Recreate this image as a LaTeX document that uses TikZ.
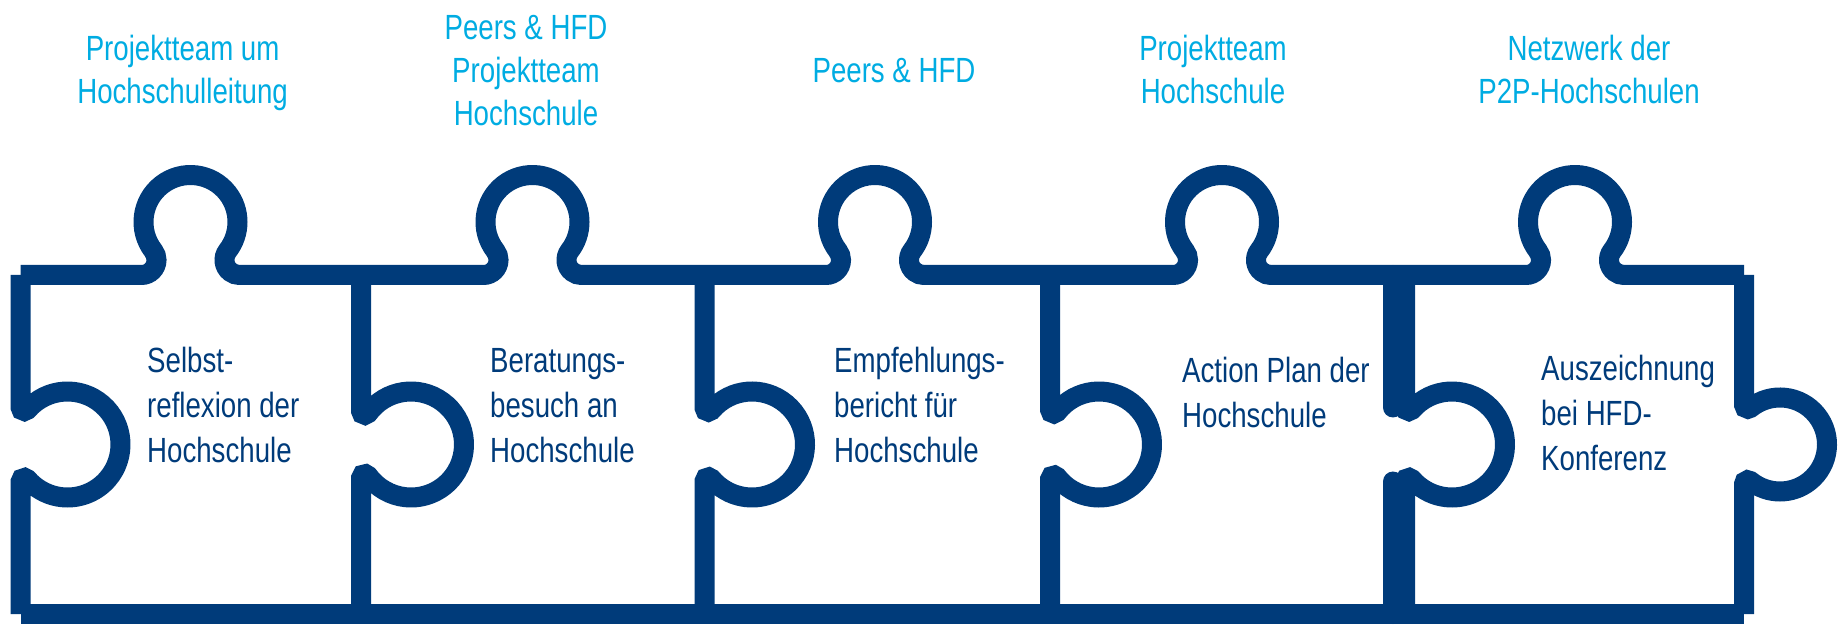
\documentclass[tikz,border=0pt]{standalone}
\usepackage{fontspec}
\newfontfamily\inFont{Liberation Sans}[FakeStretch=0.79]
\definecolor{pzblue}{RGB}{0,59,122}
\definecolor{pzcyan}{RGB}{0,172,226}
\tikzset{
  pzline/.style={draw=pzblue, line width=20pt},
  toplabel/.style={font=\inFont\fontsize{35}{43}\selectfont, text=pzcyan, align=center, inner sep=0pt, anchor=base},
  intext/.style={font=\inFont\fontsize{35}{45}\selectfont, text=pzblue, align=left, inner sep=0pt, anchor=base west},
  tknob/.style={insert path={-- ({#1-\tS},349)
      arc[start angle=-90, end angle=\tA, radius=15]
      arc[start angle={180+\tA}, end angle={-\tA}, radius=47]
      arc[start angle={180-\tA}, end angle=270, radius=15]}}
}
% vertical edge with a knob to the right: #1 x, #2 offset of knob centre, #3 knob radius, #4 fillet radius, #5 options
\newcommand\pzlV[5]{%
  \pgfmathsetmacro\pzS{sqrt((#3+#4)^2-(#2-#4)^2)}%
  \pgfmathsetmacro\pzB{atan2(\pzS,#2-#4)}%
  \draw[pzline,#5] (#1,349) -- (#1,{179.5+\pzS})
    arc[start angle=180, end angle={360-\pzB}, radius=#4]
    arc[start angle={180-\pzB}, end angle={\pzB-180}, radius=#3]
    arc[start angle=\pzB, end angle=180, radius=#4]
    -- (#1,10);
}
\begin{document}
\begin{tikzpicture}[x=1pt,y=1pt]
\useasboundingbox (0,0) rectangle (1847,624);
\clip (0,0) rectangle (1847,624);
\pgfmathsetmacro\tS{sqrt((47+15)^2-(53-15)^2)}
\pgfmathsetmacro\tA{atan2(53-15,\tS)}
% top edge with knobs
\draw[pzline, line cap=square] (20.5,349) [tknob=190.5] [tknob=532.5] [tknob=875] [tknob=1222] [tknob=1575] -- (1744,349);
% bottom edge
\draw[pzline, line cap=square] (20.5,10) -- (1744,10);
% vertical edges
\pzlV{20.5}{47}{53}{4}{line cap=square}
\pzlV{361}{50}{53}{4}{}
\pzlV{704.5}{47.5}{53}{4}{}
\pzlV{1050}{49}{53}{4}{}
\pzlV{1405}{47}{53}{4}{}
\draw[pzline, line cap=round] (1393,349) -- (1393,216.5);
\draw[pzline, line cap=round] (1393,142.5) -- (1393,10);
\pzlV{1744}{36}{47}{4}{line cap=square}
% top labels (anchored at the baseline of the last line)
\node[toplabel] (t1) at (182.6,520.4) {Projektteam um\\Hochschulleitung};
\node[toplabel] (t2) at (526,498) {Peers \& HFD\\Projektteam\\Hochschule};
\node[toplabel] (t3) at (894,541.5) {Peers \& HFD};
\node[toplabel] (t4) at (1213,520.4) {Projektteam\\Hochschule};
\node[toplabel] (t5) at (1589,520.4) {Netzwerk der\\P2P-Hochschulen};
% texts in pieces (anchored at the baseline of the last line)
\node[intext] (p1) at (147,161) {Selbst-\\reflexion der\\Hochschule};
\node[intext] (p2) at (490,161) {Beratungs-\\besuch an\\Hochschule};
\node[intext] (p3) at (834,161) {Empfehlungs-\\bericht für\\Hochschule};
\node[intext] (p4) at (1182,196) {Action Plan der\\Hochschule};
\node[intext] (p5) at (1541,153) {Auszeichnung\\bei HFD-\\Konferenz};
\end{tikzpicture}
\end{document}
